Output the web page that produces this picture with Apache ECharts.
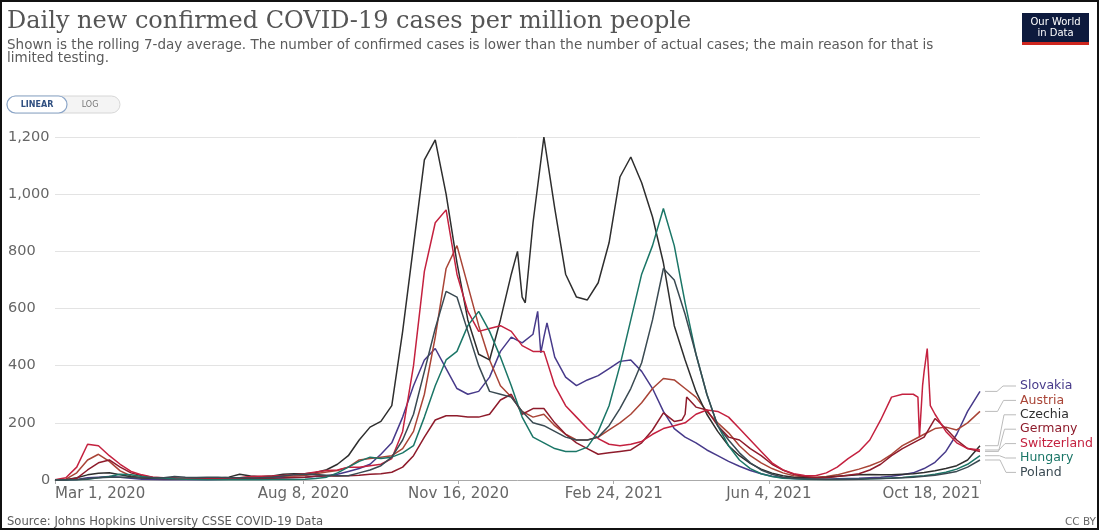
<!DOCTYPE html>
<html><head><meta charset="utf-8">
<script src="https://cdn.jsdelivr.net/npm/echarts@6/dist/echarts.min.js"></script>
<style>html,body{margin:0;padding:0;background:#fff}#c{width:1099px;height:531px}</style>
</head><body><div id="c"></div>
<script>
// ---------- DATA ----------
const startDate = '2020-03-01';
const endDate = '2021-10-18';
const tickDates = ['2020-03-01', '2020-08-08', '2020-11-16', '2021-02-24', '2021-06-04', '2021-10-18'];
const yTicks = [0, 200, 400, 600, 800, 1000, 1200];
const countries = ['Slovakia', 'Austria', 'Czechia', 'Germany', 'Switzerland', 'Hungary', 'Poland'];
const colors = ['#473a8a', '#a94436', '#2e2e2e', '#8e1b2b', '#c4213f', '#1b7667', '#3a4a52'];

// weekly samples from Mar 1, 2020 (every 7 days), last sample on Oct 18, 2021
const slovakia = [
  0, 0, 2, 8, 10, 12, 10, 6, 3, 2,
  1, 1, 1, 1, 1, 2, 3, 4, 6, 8,
  7, 8, 9, 10, 12, 15, 20, 30, 40, 55,
  90, 130, 220, 330, 420, 460, 390, 320, 300, 310,
  360, 450, 500, 480, 510, 500, 430, 360, 330, 350,
  365, 390, 415, 420, 380, 320, 240, 180, 150, 130,
  105, 85, 65, 48, 33, 22, 13, 8, 5, 4,
  3, 3, 4, 5, 6, 8, 10, 13, 18, 25,
  40, 62, 100, 160, 240, 310];
const austria = [
  0, 3, 25, 70, 90, 65, 32, 14, 8, 6,
  5, 5, 4, 4, 4, 5, 5, 8, 10, 12,
  13, 13, 14, 16, 22, 28, 33, 45, 70, 75,
  80, 85, 110, 170, 300, 500, 740, 820, 680, 540,
  420, 330, 290, 240, 220, 230, 190, 160, 140, 140,
  150, 175, 200, 230, 270, 320, 355, 350, 320, 290,
  240, 200, 165, 120, 85, 60, 40, 25, 15, 11,
  10, 12, 18, 28, 38, 50, 65, 90, 120, 140,
  160, 180, 185, 175, 200, 240];
const czechia = [
  0, 1, 8, 18, 24, 25, 18, 11, 7, 6,
  5, 5, 5, 5, 6, 7, 10, 20, 14, 11,
  14, 20, 22, 22, 26, 36, 55, 85, 140, 185,
  205, 260, 520, 820, 1120, 1190, 1000, 760, 560, 440,
  420, 560, 720, 640, 900, 1200, 950, 720, 640, 630,
  690, 830, 1060, 1130, 1040, 920, 760, 540, 420, 310,
  230, 170, 120, 85, 58, 38, 24, 15, 10, 8,
  8, 10, 13, 16, 18, 19, 18, 18, 20, 22,
  26, 32, 40, 50, 70, 120];
const germany = [
  0, 1, 6, 35, 60, 70, 45, 25, 15, 10,
  8, 7, 5, 4, 4, 4, 6, 5, 5, 5,
  6, 7, 9, 10, 14, 15, 14, 15, 17, 20,
  22, 27, 45, 85, 150, 210, 225, 225, 220, 220,
  230, 280, 300, 230, 250, 250, 200, 160, 130, 110,
  90, 95, 100, 105, 130, 175, 235, 205, 230, 255,
  245, 190, 150, 140, 110, 85, 55, 35, 20, 12,
  8, 8, 12, 17, 22, 35, 55, 85, 110, 130,
  150, 215, 180, 140, 110, 100];
const switzerland = [
  1, 8, 45, 125, 120, 85, 55, 30, 18, 10,
  7, 5, 4, 3, 3, 3, 4, 8, 12, 13,
  14, 16, 18, 22, 28, 33, 35, 45, 45, 50,
  55, 75, 170, 400, 730, 900, 945, 720, 590, 520,
  530, 540, 520, 470, 450, 450, 330, 260, 220, 180,
  145, 125, 120, 125, 135, 160, 180, 190, 200, 230,
  245, 240, 220, 180, 140, 100, 60, 35, 22, 16,
  15, 25, 45, 75, 100, 140, 210, 290, 300, 300,
  380, 230, 170, 130, 110, 105];
const hungary = [
  0, 0, 1, 3, 8, 12, 20, 18, 12, 8,
  6, 4, 3, 2, 1, 1, 1, 1, 1, 1,
  2, 2, 2, 3, 5, 10, 25, 45, 65, 80,
  75, 80, 95, 120, 220, 330, 420, 450, 540, 590,
  520, 430, 330, 220, 150, 130, 110, 100, 100, 115,
  170, 260, 400, 560, 720, 820, 950, 820, 620, 440,
  300, 190, 120, 70, 40, 22, 12, 6, 4, 3,
  2, 2, 2, 3, 3, 4, 5, 7, 9, 12,
  15, 20, 27, 38, 55, 85];
const poland = [
  0, 0, 1, 4, 8, 10, 10, 9, 8, 8,
  8, 12, 10, 9, 10, 10, 8, 8, 7, 8,
  10, 14, 18, 20, 19, 17, 15, 15, 25, 35,
  50, 80, 140, 230, 380, 530, 660, 640, 520, 400,
  310, 300, 290, 240, 200, 190, 170, 150, 140, 140,
  150, 190, 250, 320, 410, 560, 740, 700, 580, 440,
  300, 190, 140, 95, 60, 35, 20, 10, 6, 4,
  3, 2, 2, 2, 3, 4, 5, 6, 8, 10,
  13, 17, 23, 30, 45, 70];

// a few extra daily readings where the curve has sharp features
const extraPoints = {
  Czechia: [['2020-12-24', 800], ['2020-12-29', 620]],
  Slovakia: [['2021-01-06', 590], ['2021-01-08', 445], ['2021-01-12', 550]],
  Switzerland: [['2021-09-08', 290], ['2021-09-09', 150], ['2021-09-11', 330], ['2021-09-14', 460], ['2021-09-16', 260]],
  Germany: [['2021-04-09', 210], ['2021-04-12', 290]]
};

const seriesValues = [slovakia, austria, czechia, germany, switzerland, hungary, poland];

// ---------- AXIS CATEGORIES ----------
const DAY = 86400000;
const t0 = Date.parse(startDate + 'T00:00:00Z');
const nDays = Math.round((Date.parse(endDate + 'T00:00:00Z') - t0) / DAY) + 1;
const days = [];
for (let i = 0; i < nDays; i++) days.push(new Date(t0 + i * DAY).toISOString().slice(0, 10));
const sampleIdx = [];
for (let k = 0; k < slovakia.length - 1; k++) sampleIdx.push(k * 7);
sampleIdx.push(nDays - 1);
const tickSet = new Set(tickDates.map(d => days.indexOf(d)));
const MONTHS = ['Jan','Feb','Mar','Apr','May','Jun','Jul','Aug','Sep','Oct','Nov','Dec'];
function fmtDate(s) {
  const [y, m, d] = s.split('-').map(Number);
  return MONTHS[m - 1] + ' ' + d + ', ' + y;
}

const series = countries.map((name, si) => {
  let pts = sampleIdx.map((d, i) => [d, seriesValues[si][i]]);
  (extraPoints[name] || []).forEach(([ds, v]) => pts.push([days.indexOf(ds), v]));
  pts.sort((a, b) => a[0] - b[0]);
  return {
    name, type: 'line', data: pts, showSymbol: false, symbol: 'none',
    lineStyle: { width: 1.5, color: colors[si] }, itemStyle: { color: colors[si] },
    emphasis: { disabled: true }, animation: false, z: 2 + si
  };
});

const chart = echarts.init(document.getElementById('c'), null, { renderer: 'canvas' });
const sans = '"DejaVu Sans", Lato, sans-serif';
chart.setOption({
  animation: false,
  grid: { left: 55, right: 119, top: 137, bottom: 51, containLabel: false },
  xAxis: {
    type: 'category', data: days, boundaryGap: false,
    axisLine: { lineStyle: { color: '#aaa', width: 1 } },
    axisTick: { show: true, interval: (i) => tickSet.has(i), length: 4, lineStyle: { color: '#aaa' } },
    axisLabel: {
      interval: (i) => tickSet.has(i), formatter: (v) => fmtDate(v),
      color: '#666', fontFamily: sans, fontSize: 15, margin: 7,
      alignMinLabel: 'left', alignMaxLabel: 'right', showMinLabel: true, showMaxLabel: true
    },
    splitLine: { show: false }
  },
  yAxis: {
    type: 'value', min: yTicks[0], max: yTicks[yTicks.length - 1], interval: yTicks[1] - yTicks[0],
    axisLine: { show: false }, axisTick: { show: false },
    axisLabel: {
      align: 'left', margin: 47, color: '#666', fontFamily: sans, fontSize: 14.5,
      formatter: (v) => v === 0 ? '{z|0}' : v.toLocaleString('en-US'),
      rich: { z: { padding: [0, 0, 0, 33], color: '#666', fontFamily: sans, fontSize: 14.5 } }
    },
    splitLine: { lineStyle: { color: '#e3e3e3', width: 1 } }
  },
  series
});

// ---------- ANNOTATIONS ----------
const g = [];
g.push({ type: 'text', left: 7, top: 10, style: { text: 'Daily new confirmed COVID-19 cases per million people', fill: '#555', font: '24px "DejaVu Serif", serif' } });
g.push({ type: 'text', left: 7, top: 38, style: { text: 'Shown is the rolling 7-day average. The number of confirmed cases is lower than the number of actual cases; the main reason for that is\nlimited testing.', fill: '#5b5b5b', font: '13.5px ' + sans, lineHeight: 13.5 } });
// linear / log toggle
g.push({ type: 'rect', shape: { x: 7, y: 96, width: 113, height: 17, r: 8.5 }, style: { fill: '#f4f4f4', stroke: '#d6d6d6', lineWidth: 1 } });
g.push({ type: 'rect', shape: { x: 7, y: 96, width: 60, height: 17, r: 8.5 }, style: { fill: '#fff', stroke: '#8aa5c8', lineWidth: 1.2 } });
g.push({ type: 'text', x: 37, y: 104.5, style: { text: 'LINEAR', fill: '#2f4f80', font: 'bold 8px ' + sans, align: 'center', verticalAlign: 'middle' } });
g.push({ type: 'text', x: 90, y: 104.5, style: { text: 'LOG', fill: '#777', font: '8px ' + sans, align: 'center', verticalAlign: 'middle' } });
// logo
g.push({ type: 'rect', shape: { x: 1022, y: 13, width: 67, height: 32 }, style: { fill: '#0d1a3d' } });
g.push({ type: 'rect', shape: { x: 1022, y: 42, width: 67, height: 3 }, style: { fill: '#ce261e' } });
g.push({ type: 'text', x: 1055.5, y: 22, style: { text: 'Our World', fill: '#fff', font: '10px ' + sans, align: 'center', verticalAlign: 'middle' } });
g.push({ type: 'text', x: 1055.5, y: 33, style: { text: 'in Data', fill: '#fff', font: '10px ' + sans, align: 'center', verticalAlign: 'middle' } });
// footer
g.push({ type: 'text', left: 7, top: 516, style: { text: 'Source: Johns Hopkins University CSSE COVID-19 Data', fill: '#5a5a5a', font: '11.6px ' + sans } });
g.push({ type: 'text', x: 1096, y: 522, style: { text: 'CC BY', fill: '#666', font: '10.5px ' + sans, align: 'right', verticalAlign: 'middle' } });
// frame
g.push({ type: 'rect', shape: { x: 1, y: 1, width: 1097, height: 528 }, style: { fill: 'none', stroke: '#111', lineWidth: 2 }, silent: true });

// end labels with connector lines
const labelX = 1020, labelY0 = 386, labelStep = 14.4, elbowX = 1003;
countries.forEach((name, si) => {
  const vals = seriesValues[si];
  const p = chart.convertToPixel({ gridIndex: 0 }, [nDays - 1, vals[vals.length - 1]]);
  const ly = labelY0 + si * labelStep;
  g.push({ type: 'polyline', shape: { points: [[p[0] + 5, p[1]], [elbowX - 6 + si * 0.5, p[1]], [elbowX + si * 0.5, ly], [labelX - 4, ly]] }, style: { stroke: '#bbb', lineWidth: 1, fill: 'none' }, silent: true });
  g.push({ type: 'text', x: labelX, y: ly, style: { text: name, fill: colors[si], font: '12.5px ' + sans, align: 'left', verticalAlign: 'middle' } });
});
chart.setOption({ graphic: g });
</script>
</body></html>
